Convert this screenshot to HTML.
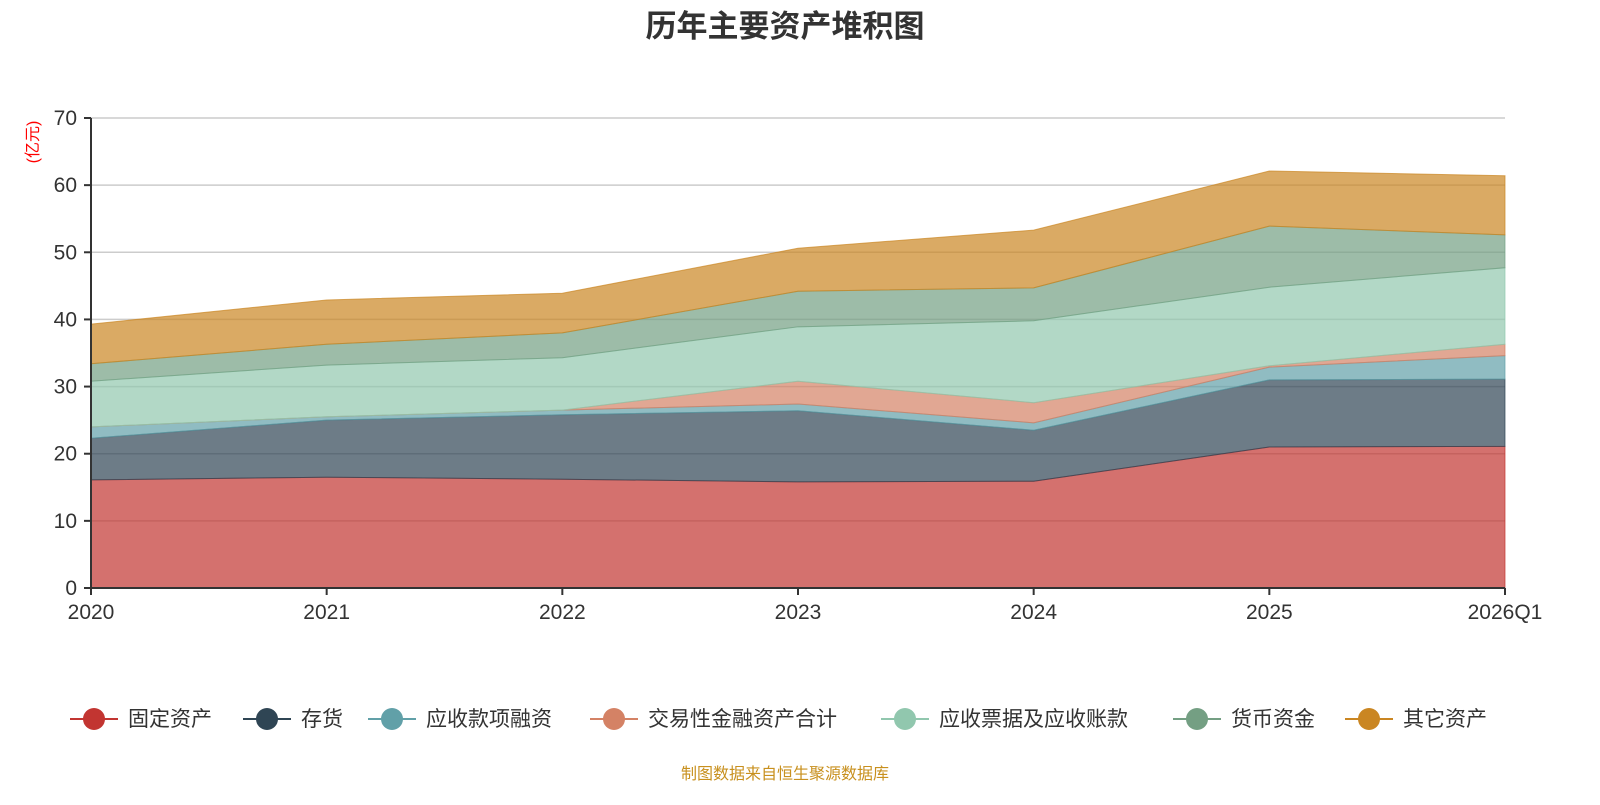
<!DOCTYPE html>
<html><head><meta charset="utf-8"><style>
body{margin:0;background:#fff;width:1600px;height:800px;overflow:hidden;font-family:"Liberation Sans","Noto Sans CJK SC",sans-serif}
</style></head><body>
<svg id="chart" width="1600" height="800" xmlns="http://www.w3.org/2000/svg" font-family="Liberation Sans, Noto Sans CJK SC, sans-serif">
<text x="785" y="37" text-anchor="middle" font-size="31" font-weight="bold" fill="#333">历年主要资产堆积图</text>
<text transform="translate(38,142) rotate(-90)" text-anchor="middle" font-size="16" fill="#f00">(亿元)</text>
<g id="grid"></g><g id="areas"></g><g id="axes"></g><g id="legend"></g>
<text x="785" y="779" text-anchor="middle" font-size="16" fill="#c8901e">制图数据来自恒生聚源数据库</text>
</svg>
<script>
const categories=["2020","2021","2022","2023","2024","2025","2026Q1"];
const seriesNames=["固定资产","存货","应收款项融资","交易性金融资产合计","应收票据及应收账款","货币资金","其它资产"];
const fixedAssets=[16.1,16.5,16.2,15.8,15.9,21.0,21.1];
const inventory=[6.2,8.5,9.6,10.6,7.6,10.0,10.0];
const receivablesFinancing=[1.7,0.5,0.7,1.0,1.1,1.9,3.5];
const tradingAssets=[0,0,0,3.4,3.0,0.2,1.7];
const notesReceivable=[6.8,7.7,7.8,8.1,12.2,11.7,11.4];
const cash=[2.6,3.1,3.7,5.3,4.9,9.1,4.9];
const otherAssets=[5.9,6.6,5.9,6.4,8.6,8.2,8.8];
const yTicks=[0,10,20,30,40,50,60,70];
const series=[fixedAssets,inventory,receivablesFinancing,tradingAssets,notesReceivable,cash,otherAssets];
const colors=["#c23531","#2f4554","#61a0a8","#d48265","#91c7ae","#749f83","#ca8622"];
const NS="http://www.w3.org/2000/svg";
const x0=91,x1=1505,y0=588,y1=118,yMax=70;
const X=i=>x0+(x1-x0)*i/(categories.length-1);
const Y=v=>y0-(y0-y1)*v/yMax;
function mk(t,a,p){const e=document.createElementNS(NS,t);for(const k in a)e.setAttribute(k,a[k]);p.appendChild(e);return e;}
const grid=document.getElementById('grid'),areas=document.getElementById('areas'),axes=document.getElementById('axes'),legend=document.getElementById('legend');
yTicks.forEach(v=>{
 if(v>0){const l=mk('line',{x1:x0,x2:x1,y1:Y(v),y2:Y(v),stroke:'#ccc','stroke-width':1.5},grid);
 
 }
 const t=mk('text',{x:x0-14,y:Y(v)+7,'text-anchor':'end','font-size':21,fill:'#333'},axes);t.textContent=v;
 
 
 const tk=mk('line',{x1:x0-7,x2:x0,y1:Y(v),y2:Y(v),stroke:'#333','stroke-width':2},axes);
 
 
});
let base=categories.map(()=>0);
series.forEach((s,si)=>{
 const top=base.map((b,i)=>b+s[i]);
 let d='M'+top.map((v,i)=>X(i)+','+Y(v)).join(' L');
 for(let i=categories.length-1;i>=0;i--)d+=' L'+X(i)+','+Y(base[i]);
 const p=mk('path',{d:d+'Z',fill:colors[si],'fill-opacity':0.7,stroke:colors[si],'stroke-opacity':0.7,'stroke-width':1},areas);
 
 
 base=top;
});
const ax=mk('line',{x1:x0,x2:x0,y1:y1,y2:y0,stroke:'#333','stroke-width':2},axes);


const bx=mk('line',{x1:x0,x2:x1,y1:y0,y2:y0,stroke:'#333','stroke-width':2},axes);


categories.forEach((c,i)=>{
 const tk=mk('line',{x1:X(i),x2:X(i),y1:y0,y2:y0+7,stroke:'#333','stroke-width':2},axes);
 
 
 const t=mk('text',{x:X(i),y:y0+31,'text-anchor':'middle','font-size':21,fill:'#333'},axes);t.textContent=c;
 
 
});
const lx=[94,267,392,614,905,1197,1369];
seriesNames.forEach((n,i)=>{
 const g=mk('g',{},legend);
 
 
 mk('line',{x1:lx[i]-24,x2:lx[i]+24,y1:719,y2:719,stroke:colors[i],'stroke-width':2},g);
 mk('circle',{cx:lx[i],cy:719,r:11,fill:colors[i]},g);
 const t=mk('text',{x:lx[i]+34,y:726,'font-size':21,fill:'#333'},g);t.textContent=n;
});
</script>
</body></html>
